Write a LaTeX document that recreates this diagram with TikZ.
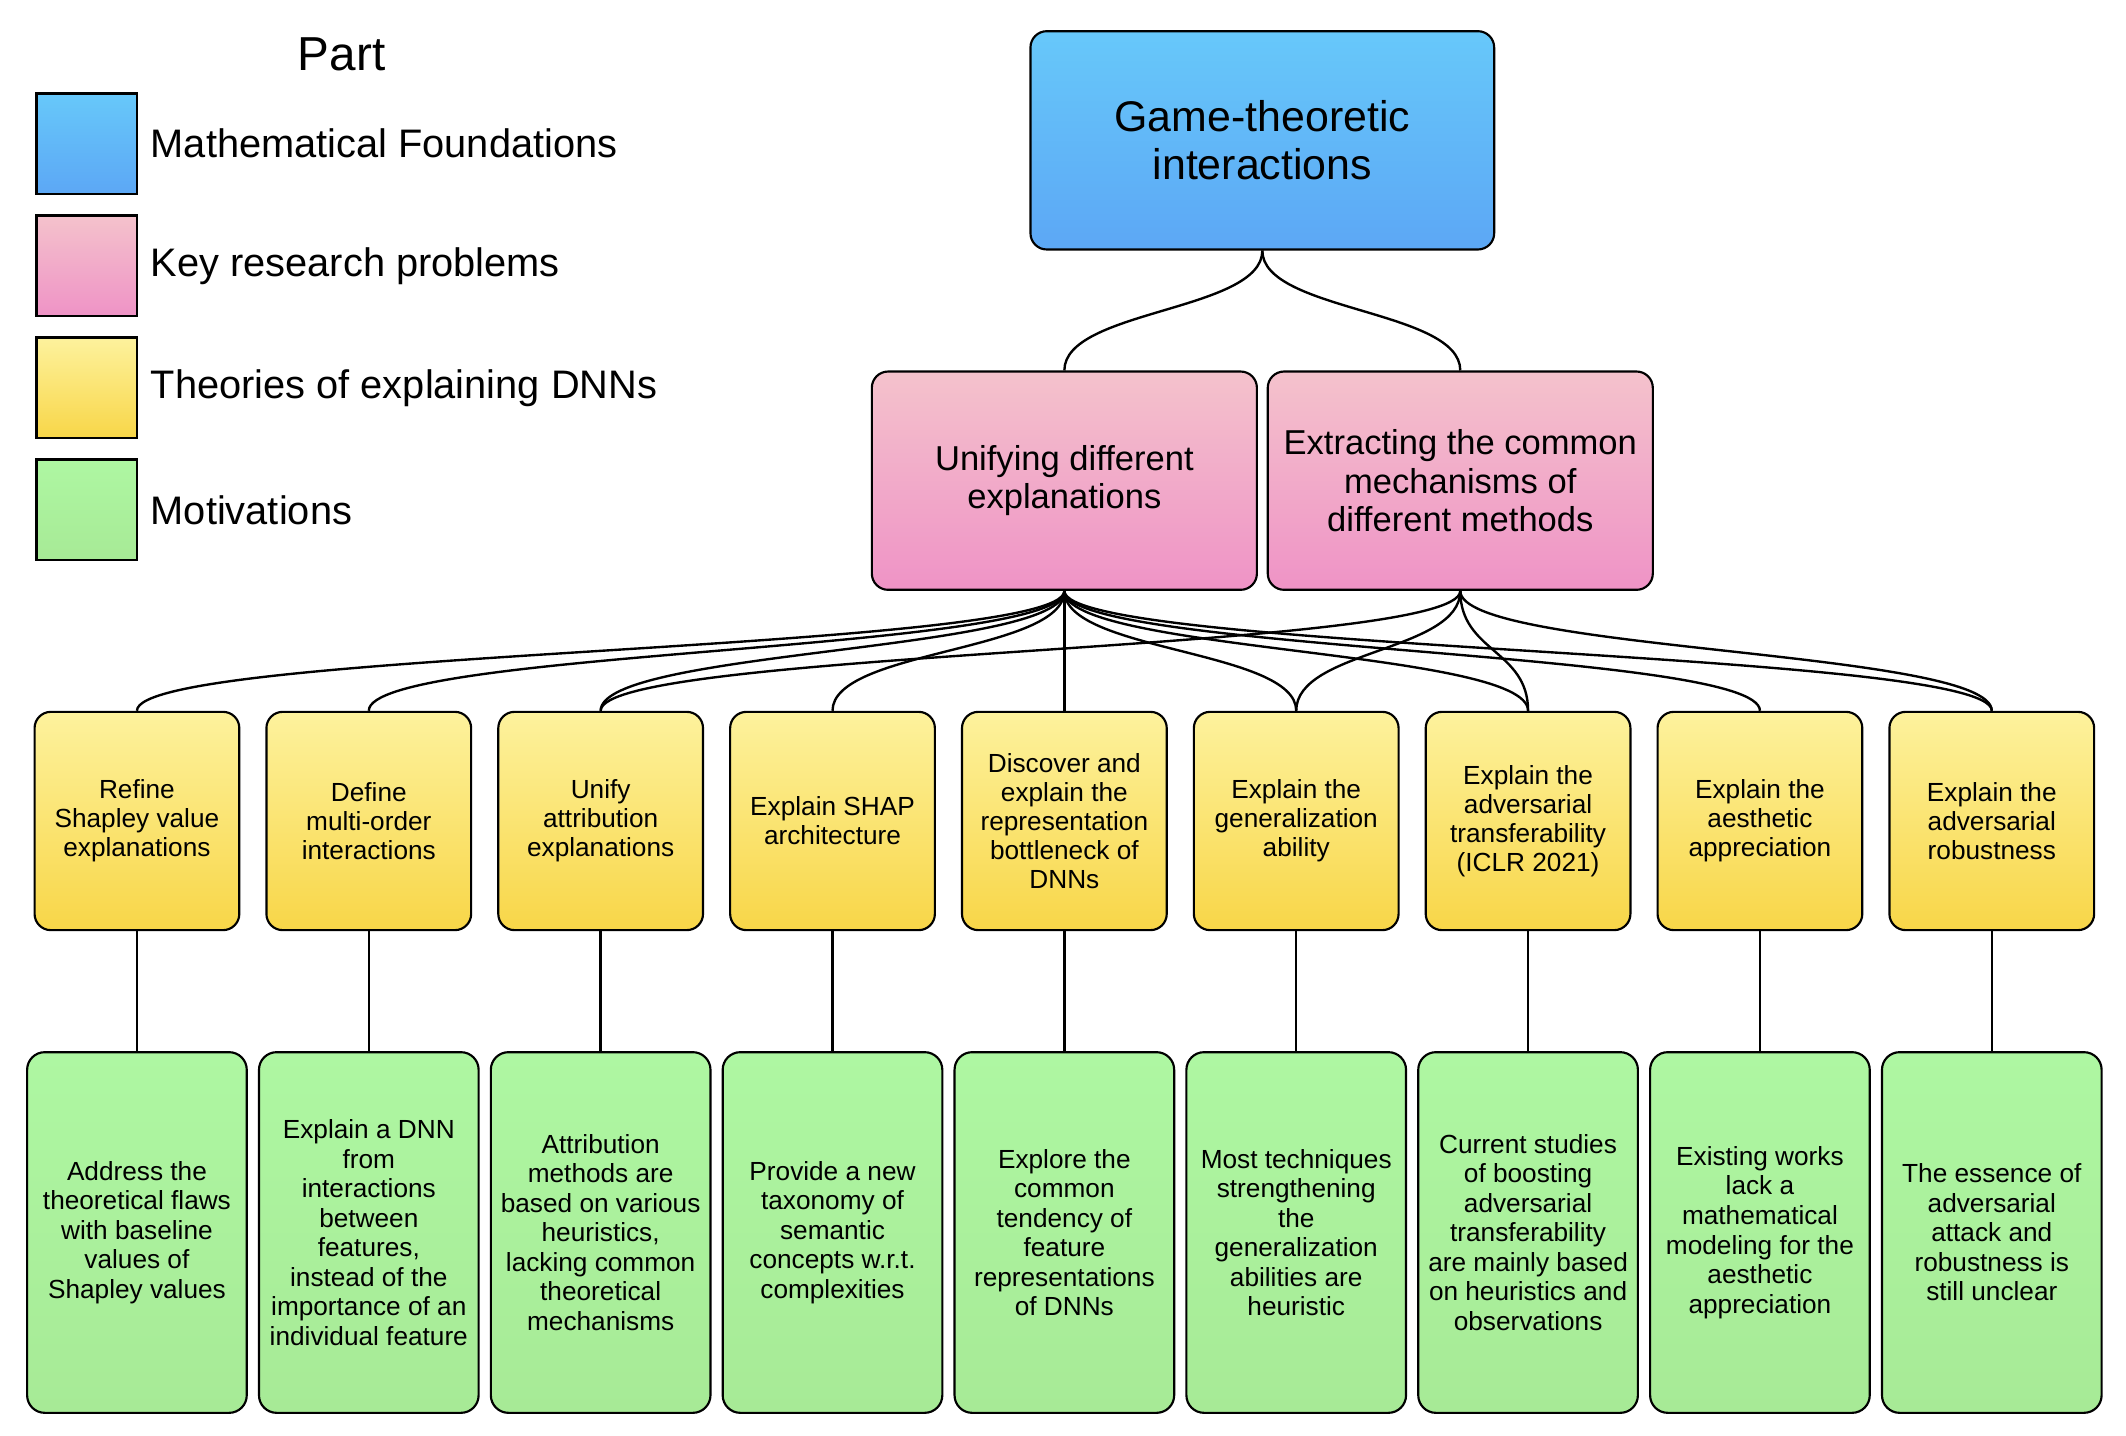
\documentclass[tikz,border=0pt]{standalone}
\usepackage{fontspec}
\setmainfont{Liberation Sans}
\usepackage{tikz}
\usetikzlibrary{positioning}

\definecolor{blueTop}{HTML}{67C8FA}
\definecolor{blueBot}{HTML}{5CA7F5}
\definecolor{pinkTop}{HTML}{F4C2CC}
\definecolor{pinkBot}{HTML}{EF93C6}
\definecolor{yellowTop}{HTML}{FDF29D}
\definecolor{yellowBot}{HTML}{F8D648}
\definecolor{greenTop}{HTML}{AEF7A2}
\definecolor{greenBot}{HTML}{A7EA96}

\begin{document}
\begin{tikzpicture}[
        root/.style={rectangle, rounded corners=0.24cm, draw=black, line width=0.9pt, top color=blueTop, bottom color=blueBot, minimum width=6.84cm, minimum height=3.22cm, align=center, font=\fontsize{18}{20}\selectfont},
        problem/.style={rectangle, rounded corners=0.24cm, draw=black, line width=0.9pt, top color=pinkTop, bottom color=pinkBot, minimum width=5.68cm, minimum height=3.22cm, align=center, font=\fontsize{14.5}{16}\selectfont},
        theory/.style={rectangle, rounded corners=0.24cm, draw=black, line width=0.9pt, top color=yellowTop, bottom color=yellowBot, minimum width=3.02cm, minimum height=3.22cm, inner sep=1pt, align=center, font=\fontsize{11}{12.2}\selectfont},
        motive/.style={rectangle, rounded corners=0.26cm, draw=black, line width=0.9pt, top color=greenTop, bottom color=greenBot, minimum width=3.24cm, minimum height=5.32cm, inner sep=1pt, align=center, font=\fontsize{11}{12.4}\selectfont},
        swatch/.style={rectangle, draw=black, line width=1pt, minimum size=1.48cm},
        legend_text/.style={inner sep=0pt, font=\fontsize{16.7}{19}\selectfont},
        branch/.style={line width=1pt, to path={.. controls +(0,-0.9) and +(0,0.9) .. (\tikztotarget) \tikztonodes}},
        stem/.style={line width=1pt}
    ]
    \useasboundingbox (0,0) rectangle (31.36,-21.18);

    % legend
    \node[font=\fontsize{20}{22}\selectfont] (part) at (5.04,-0.8) {Part};
    \node[swatch, top color=blueTop, bottom color=blueBot] (k1) at (1.28,-2.12) {};
    \node[swatch, top color=pinkTop, bottom color=pinkBot] (k2) at (1.28,-3.92) {};
    \node[swatch, top color=yellowTop, bottom color=yellowBot] (k3) at (1.28,-5.72) {};
    \node[swatch, top color=greenTop, bottom color=greenBot] (k4) at (1.28,-7.52) {};
    \node[legend_text, right=0.18cm of k1] (l1) {Mathematical Foundations};
    \node[legend_text, right=0.18cm of k2] (l2) {Key research problems};
    \node[legend_text, right=0.18cm of k3] (l3) {Theories of explaining DNNs};
    \node[legend_text, right=0.18cm of k4] (l4) {Motivations};

    % foundation and research problems
    \node[root] (game) at (18.62,-2.07) {Game-theoretic\\interactions};
    \node[problem] (unify) at (15.70,-7.09) {Unifying different\\explanations};
    \node[problem] (extract) at (21.54,-7.09) {Extracting the common\\mechanisms of\\different methods};

    % theories
    \node[theory] (t1) at (2.02,-12.11) {Refine\\Shapley value\\explanations};
    \node[theory] (t2) at (5.44,-12.11) {Define\\multi-order\\interactions};
    \node[theory] (t3) at (8.86,-12.11) {Unify\\attribution\\explanations};
    \node[theory] (t4) at (12.28,-12.11) {Explain SHAP\\architecture};
    \node[theory] (t5) at (15.70,-12.11) {Discover and\\explain the\\representation\\bottleneck of\\DNNs};
    \node[theory] (t6) at (19.12,-12.11) {Explain the\\generalization\\ability};
    \node[theory] (t7) at (22.54,-12.11) {Explain the\\adversarial\\transferability\\(ICLR 2021)};
    \node[theory] (t8) at (25.96,-12.11) {Explain the\\aesthetic\\appreciation};
    \node[theory] (t9) at (29.38,-12.11) {Explain the\\adversarial\\robustness};

    % motivations
    \node[motive] (m1) at (2.02,-18.18) {Address the\\theoretical flaws\\with baseline\\values of\\Shapley values};
    \node[motive] (m2) at (5.44,-18.18) {Explain a DNN\\from\\interactions\\between\\features,\\instead of the\\importance of an\\individual feature};
    \node[motive] (m3) at (8.86,-18.18) {Attribution\\methods are\\based on various\\heuristics,\\lacking common\\theoretical\\mechanisms};
    \node[motive] (m4) at (12.28,-18.18) {Provide a new\\taxonomy of\\semantic\\concepts w.r.t.\\complexities};
    \node[motive] (m5) at (15.70,-18.18) {Explore the\\common\\tendency of\\feature\\representations\\of DNNs};
    \node[motive] (m6) at (19.12,-18.18) {Most techniques\\strengthening\\the\\generalization\\abilities are\\heuristic};
    \node[motive] (m7) at (22.54,-18.18) {Current studies\\of boosting\\adversarial\\transferability\\are mainly based\\on heuristics and\\observations};
    \node[motive] (m8) at (25.96,-18.18) {Existing works\\lack a\\mathematical\\modeling for the\\aesthetic\\appreciation};
    \node[motive] (m9) at (29.38,-18.18) {The essence of\\adversarial\\attack and\\robustness is\\still unclear};

    % curved links
    \draw[branch] (game.south) to (unify.north);
    \draw[branch] (game.south) to (extract.north);
    \draw[branch] (unify.south) to (t1.north);
    \draw[branch] (unify.south) to (t2.north);
    \draw[branch] (unify.south) to (t3.north);
    \draw[branch] (unify.south) to (t4.north);
    \draw[branch] (unify.south) to (t5.north);
    \draw[branch] (unify.south) to (t6.north);
    \draw[branch] (unify.south) to (t7.north);
    \draw[branch] (unify.south) to (t8.north);
    \draw[branch] (unify.south) to (t9.north);
    \draw[branch] (extract.south) to (t3.north);
    \draw[branch] (extract.south) to (t6.north);
    \draw[branch] (extract.south) to (t7.north);
    \draw[branch] (extract.south) to (t9.north);

    % straight links
    \draw[stem] (t1) -- (m1);
    \draw[stem] (t2) -- (m2);
    \draw[stem] (t3) -- (m3);
    \draw[stem] (t4) -- (m4);
    \draw[stem] (t5) -- (m5);
    \draw[stem] (t6) -- (m6);
    \draw[stem] (t7) -- (m7);
    \draw[stem] (t8) -- (m8);
    \draw[stem] (t9) -- (m9);
\end{tikzpicture}
\end{document}
